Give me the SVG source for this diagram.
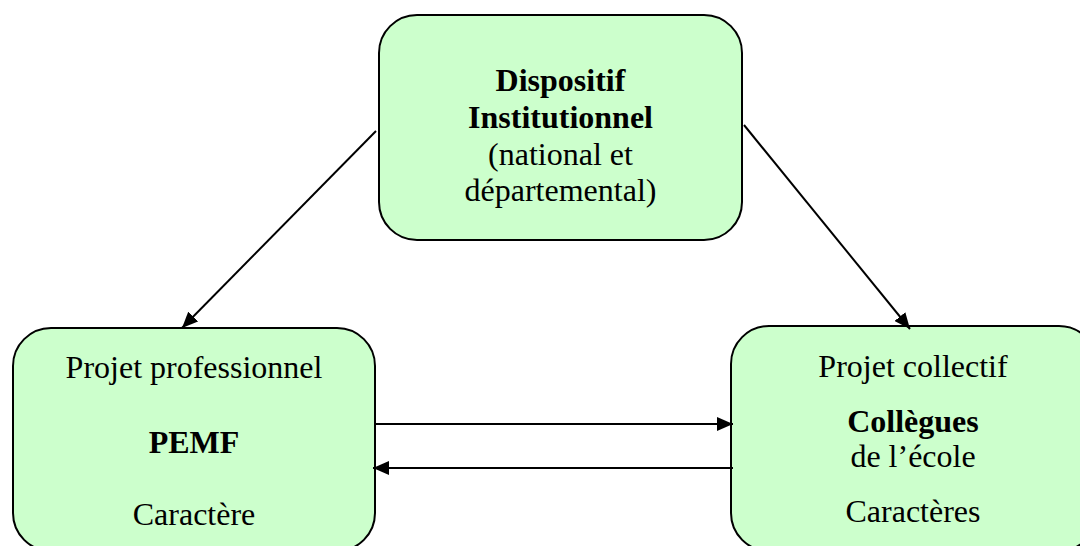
<svg xmlns="http://www.w3.org/2000/svg" width="1080" height="546" viewBox="0 0 1080 546">
<style>
.box{fill:#CCFFCC;stroke:#000;stroke-width:2}
.t{font-family:"Liberation Serif","Times New Roman",serif;font-size:32px;fill:#000;text-anchor:middle}
.b{font-weight:bold}
.c{stroke:#000;stroke-width:2;fill:none}
</style>
<defs>
<marker id="ah" markerUnits="userSpaceOnUse" markerWidth="18" markerHeight="14" refX="16" refY="7" orient="auto">
<path d="M0,0 L16,7 L0,14 Z" fill="#000"/>
</marker>
</defs>
<rect width="1080" height="546" fill="#fff"/>
<g id="institutionnel">
<rect class="box" x="379" y="15" width="363" height="225" rx="38" ry="38"/>
<text class="t b" x="560.5" y="91">Dispositif</text>
<text class="t b" x="560.5" y="128">Institutionnel</text>
<text class="t" x="560.5" y="165">(national et</text>
<text class="t" x="560.5" y="201">départemental)</text>
</g>
<g id="pemf">
<rect class="box" x="13" y="328" width="362" height="223" rx="38" ry="38"/>
<text class="t" x="194" y="378">Projet professionnel</text>
<text class="t b" x="194" y="453">PEMF</text>
<text class="t" x="194" y="525">Caractère</text>
</g>
<g id="collegues">
<rect class="box" x="731" y="326" width="366" height="225" rx="38" ry="38"/>
<text class="t" x="913" y="377">Projet collectif</text>
<text class="t b" x="913" y="432">Collègues</text>
<text class="t" x="913" y="467">de l’école</text>
<text class="t" x="913" y="522">Caractères</text>
</g>
<g id="connectors">
<line class="c" x1="376" y1="131" x2="182" y2="328" marker-end="url(#ah)"/>
<line class="c" x1="744" y1="125" x2="910" y2="329" marker-end="url(#ah)"/>
<line class="c" x1="376" y1="424" x2="733" y2="424" marker-end="url(#ah)"/>
<line class="c" x1="733" y1="468" x2="373" y2="468" marker-end="url(#ah)"/>
</g>
</svg>
